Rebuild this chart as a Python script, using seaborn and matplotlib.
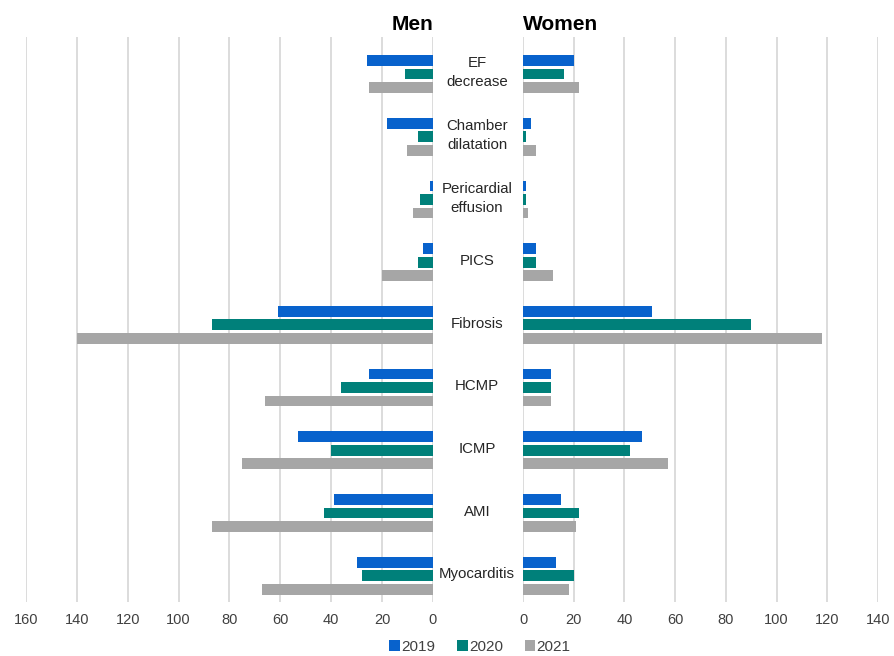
import matplotlib
matplotlib.use("Agg")
import matplotlib.pyplot as plt
from matplotlib.patches import Patch
from matplotlib.transforms import blended_transform_factory
import pandas as pd
import seaborn as sns

# Diagnoses, top to bottom
categories = ["EF\ndecrease", "Chamber\ndilatation", "Pericardial\neffusion", "PICS",
              "Fibrosis", "HCMP", "ICMP", "AMI", "Myocarditis"]
years = ["2019", "2020", "2021"]

# Case counts per year, men
men_2019 = [26, 18, 1, 4, 61, 25, 53, 39, 30]
men_2020 = [11, 6, 5, 6, 87, 36, 40, 43, 28]
men_2021 = [25, 10, 8, 20, 140, 66, 75, 87, 67]

# Case counts per year, women
women_2019 = [20, 3, 1, 5, 51, 11, 47, 15, 13]
women_2020 = [16, 1, 1, 5, 90, 11, 42, 22, 20]
women_2021 = [22, 5, 2, 12, 118, 11, 57, 21, 18]

men_ticks = [0, 20, 40, 60, 80, 100, 120, 140, 160]
women_ticks = [0, 20, 40, 60, 80, 100, 120, 140]

palette = {"2019": "#0862CC", "2020": "#00807A", "2021": "#A6A6A6"}


def long_table(series):
    rows = []
    for year, vals in zip(years, series):
        for cat, v in zip(categories, vals):
            rows.append({"category": cat, "year": year, "value": v})
    return pd.DataFrame(rows)


men_df = long_table([men_2019, men_2020, men_2021])
women_df = long_table([women_2019, women_2020, women_2021])

sns.set_theme(style="white")
plt.rcParams["font.family"] = ["Liberation Sans", "DejaVu Sans"]

fig = plt.figure(figsize=(8.95, 6.56), dpi=100)
ax_m = fig.add_axes([0.029, 0.0823, 0.4547, 0.8613])
ax_w = fig.add_axes([0.5844, 0.0823, 0.3966, 0.8613])

for ax, df in ((ax_m, men_df), (ax_w, women_df)):
    sns.barplot(data=df, y="category", x="value", hue="year", order=categories,
                hue_order=years, palette=palette, orient="h", width=0.645, gap=0.2,
                saturation=1, linewidth=0, legend=False, ax=ax, zorder=3)
    ax.set_ylim(len(categories) - 1 + 0.42, -0.59)
    ax.set_xlabel("")
    ax.set_ylabel("")
    ax.set_yticks([])
    ax.grid(axis="x", color="#D9D9D9", linewidth=1.3, zorder=0)
    ax.grid(axis="y", visible=False)
    for s in ax.spines.values():
        s.set_visible(False)
    ax.tick_params(axis="x", length=0, pad=8, labelsize=10.5, labelcolor="#404040")

ax_m.set_xlim(160, 0)
ax_m.set_xticks(men_ticks)
ax_w.set_xlim(0, 140)
ax_w.set_xticks(women_ticks)

# Panel headings
ax_m.text(1.0, 1.006, "Men", transform=ax_m.transAxes, ha="right", va="bottom",
          fontsize=15, fontweight="bold", color="black")
ax_w.text(0.0, 1.006, "Women", transform=ax_w.transAxes, ha="left", va="bottom",
          fontsize=15, fontweight="bold", color="black")

# Diagnosis labels in the gap between the two panels
trans = blended_transform_factory(fig.transFigure, ax_w.transData)
for i, cat in enumerate(categories):
    ax_w.text(477 / 895, i - 0.02, cat, transform=trans, ha="center", va="center",
              fontsize=10.8, color="#262626", linespacing=1.45, zorder=5)

handles = [Patch(facecolor=palette[y], edgecolor="none", label=y) for y in years]
fig.legend(handles=handles, loc="center", bbox_to_anchor=(480 / 895, 1 - 647 / 656),
           ncol=3, frameon=False, fontsize=11, handlelength=0.7, handleheight=0.7,
           handletextpad=0.1, columnspacing=1.4, labelcolor="#404040")

fig.savefig("out.png", dpi=100, facecolor="white")
